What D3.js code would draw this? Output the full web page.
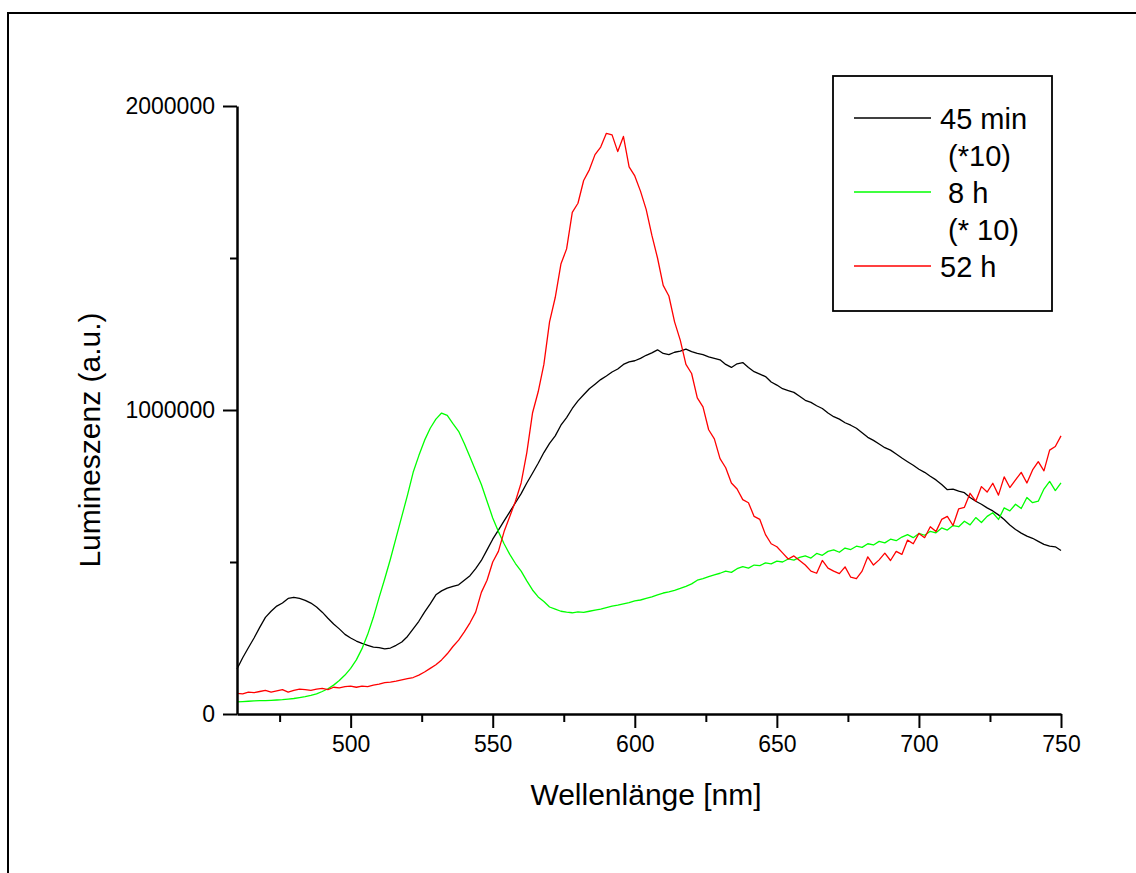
<!DOCTYPE html>
<html>
<head>
<meta charset="utf-8">
<script src="https://cdn.jsdelivr.net/npm/d3@7"></script>
<style>
  html, body { margin: 0; padding: 0; background: #fff; }
  svg { display: block; font-family: "Liberation Sans", Arial, sans-serif; }
</style>
</head>
<body>
<svg id="chart" width="1136" height="873"></svg>
<script>
// ---- data (luminescence in thousands of a.u., sampled every 2 nm from 460 nm) ----
const wlStart = 460;
const wlStep = 2;

const series45min = [
148,185,218,250,285,318,338,355,365,380,384,380,374,365,352,335,315,296,280,262,
250,240,232,226,220,218,214,217,226,237,255,280,305,335,362,392,405,414,420,425,
440,455,478,505,540,575,605,635,665,695,725,760,792,825,860,890,915,950,975,1005,
1030,1050,1070,1085,1100,1112,1125,1135,1150,1158,1162,1170,1180,1188,1198,1186,1182,1190,1194,1200,
1192,1186,1182,1175,1170,1165,1150,1140,1152,1156,1140,1126,1118,1110,1092,1082,1070,1064,1058,1045,
1032,1025,1014,1005,990,978,970,958,950,940,925,910,900,888,876,868,855,842,830,818,
805,795,782,770,755,738,740,733,728,712,700,690,678,668,655,640,622,607,595,585,
578,568,558,552,550,538
];

const series8h = [
40,41,42,43,44,44,45,46,47,49,51,54,57,61,66,74,83,95,110,128,
150,178,215,262,318,383,445,510,580,650,720,795,850,900,940,970,990,982,955,930,
890,845,800,755,700,645,600,560,525,495,470,438,408,385,370,352,345,338,335,333,
336,334,338,342,345,350,355,358,362,366,372,375,380,385,392,398,402,407,413,420,
428,440,445,452,458,463,470,466,478,485,480,490,488,497,494,503,500,510,506,515,
520,513,528,522,535,540,532,546,541,552,548,560,556,568,563,575,570,582,590,580,
594,588,601,596,612,605,620,616,634,622,646,630,650,662,640,678,668,690,676,712,
695,700,740,765,735,760
];

const series52h = [
68,66,72,70,74,78,72,76,80,72,78,82,80,78,82,84,80,88,86,90,
92,88,92,90,95,98,103,105,108,112,116,120,128,138,150,162,178,198,222,243,
270,300,335,400,440,500,535,600,650,700,760,860,990,1060,1150,1290,1370,1480,1530,1650,
1680,1755,1790,1840,1865,1910,1905,1850,1900,1800,1770,1720,1660,1575,1500,1410,1375,1290,1230,1150,
1120,1040,1010,935,905,840,810,760,740,705,695,650,640,590,560,550,530,510,520,505,
490,470,463,505,480,470,462,484,450,445,470,517,490,507,529,505,535,525,572,560,
594,580,616,600,640,650,620,675,680,726,700,748,730,759,720,780,745,770,795,760,
803,830,800,868,880,915
];

const xTickMajor = [500, 550, 600, 650, 700, 750];
const xTickMinor = [475, 525, 575, 625, 675, 725];
const yTickMajor = [0, 1000, 2000];
const yTickLabels = ["0", "1000000", "2000000"];
const yTickMinor = [500, 1500];

const legendLines = ["45 min", " (*10)", " 8 h", " (* 10)", "52 h"];
const seriesNames = ["45 min (*10)", "8 h (* 10)", "52 h"];
const seriesColors = ["#000000", "#00ff00", "#ff0000"];
const xTitle = "Wellenlänge [nm]";
const yTitle = "Lumineszenz (a.u.)";

// ---- drawing ----
const svg = d3.select("#chart");

// outer frame
svg.append("rect")
  .attr("x", 8).attr("y", 13)
  .attr("width", 1140).attr("height", 880)
  .attr("fill", "none").attr("stroke", "#000").attr("stroke-width", 2);

const x = d3.scaleLinear().domain([460, 750]).range([237, 1061]);
const y = d3.scaleLinear().domain([0, 2000]).range([714, 106]);

const allSeries = [series45min, series8h, series52h];

const line = d3.line()
  .x((d, i) => x(wlStart + i * wlStep))
  .y(d => y(d));

const curves = svg.append("g");
allSeries.forEach((s, k) => {
  curves.append("path")
    .datum(s)
    .attr("d", line)
    .attr("fill", "none")
    .attr("stroke", seriesColors[k])
    .attr("stroke-width", 1.3)
    .attr("stroke-linejoin", "round");
});

// x axis
const gx = svg.append("g").attr("transform", "translate(0,714)");
gx.call(d3.axisBottom(x).tickValues(xTickMajor).tickSize(14).tickSizeOuter(0).tickPadding(8).tickFormat(d3.format("d")));
gx.append("g").call(d3.axisBottom(x).tickValues(xTickMinor).tickSize(8).tickSizeOuter(0).tickFormat(""))
  .select(".domain").remove();

// y axis
const gy = svg.append("g").attr("transform", "translate(237,0)");
gy.call(d3.axisLeft(y).tickValues(yTickMajor).tickSize(14).tickSizeOuter(0).tickPadding(8)
  .tickFormat((d, i) => yTickLabels[i]));
gy.append("g").call(d3.axisLeft(y).tickValues(yTickMinor).tickSize(7).tickSizeOuter(0).tickFormat(""))
  .select(".domain").remove();

svg.selectAll(".domain").attr("stroke", "#000").attr("stroke-width", 2.5);
svg.selectAll(".tick line").attr("stroke", "#000").attr("stroke-width", 2);
svg.selectAll(".tick text").attr("font-size", 23).attr("fill", "#000")
  .attr("font-family", "'Liberation Sans', Arial, sans-serif");

// axis titles
svg.append("text")
  .attr("x", 646).attr("y", 805)
  .attr("text-anchor", "middle")
  .attr("font-size", 30)
  .text(xTitle);

svg.append("text")
  .attr("transform", "translate(100,440) rotate(-90)")
  .attr("text-anchor", "middle")
  .attr("font-size", 30)
  .text(yTitle);

// legend
const lg = svg.append("g");
lg.append("rect")
  .attr("x", 833).attr("y", 76).attr("width", 219).attr("height", 235)
  .attr("fill", "#fff").attr("stroke", "#000").attr("stroke-width", 1.8);
const lineYs = [118, 192, 266];
seriesNames.forEach((n, k) => {
  lg.append("line")
    .attr("x1", 854).attr("x2", 931)
    .attr("y1", lineYs[k]).attr("y2", lineYs[k])
    .attr("stroke", seriesColors[k]).attr("stroke-width", 1.3);
});
legendLines.forEach((t, i) => {
  lg.append("text")
    .attr("x", 940).attr("y", 129 + i * 37)
    .attr("font-size", 29)
    .style("white-space", "pre")
    .attr("xml:space", "preserve")
    .text(t);
});
</script>
</body>
</html>
